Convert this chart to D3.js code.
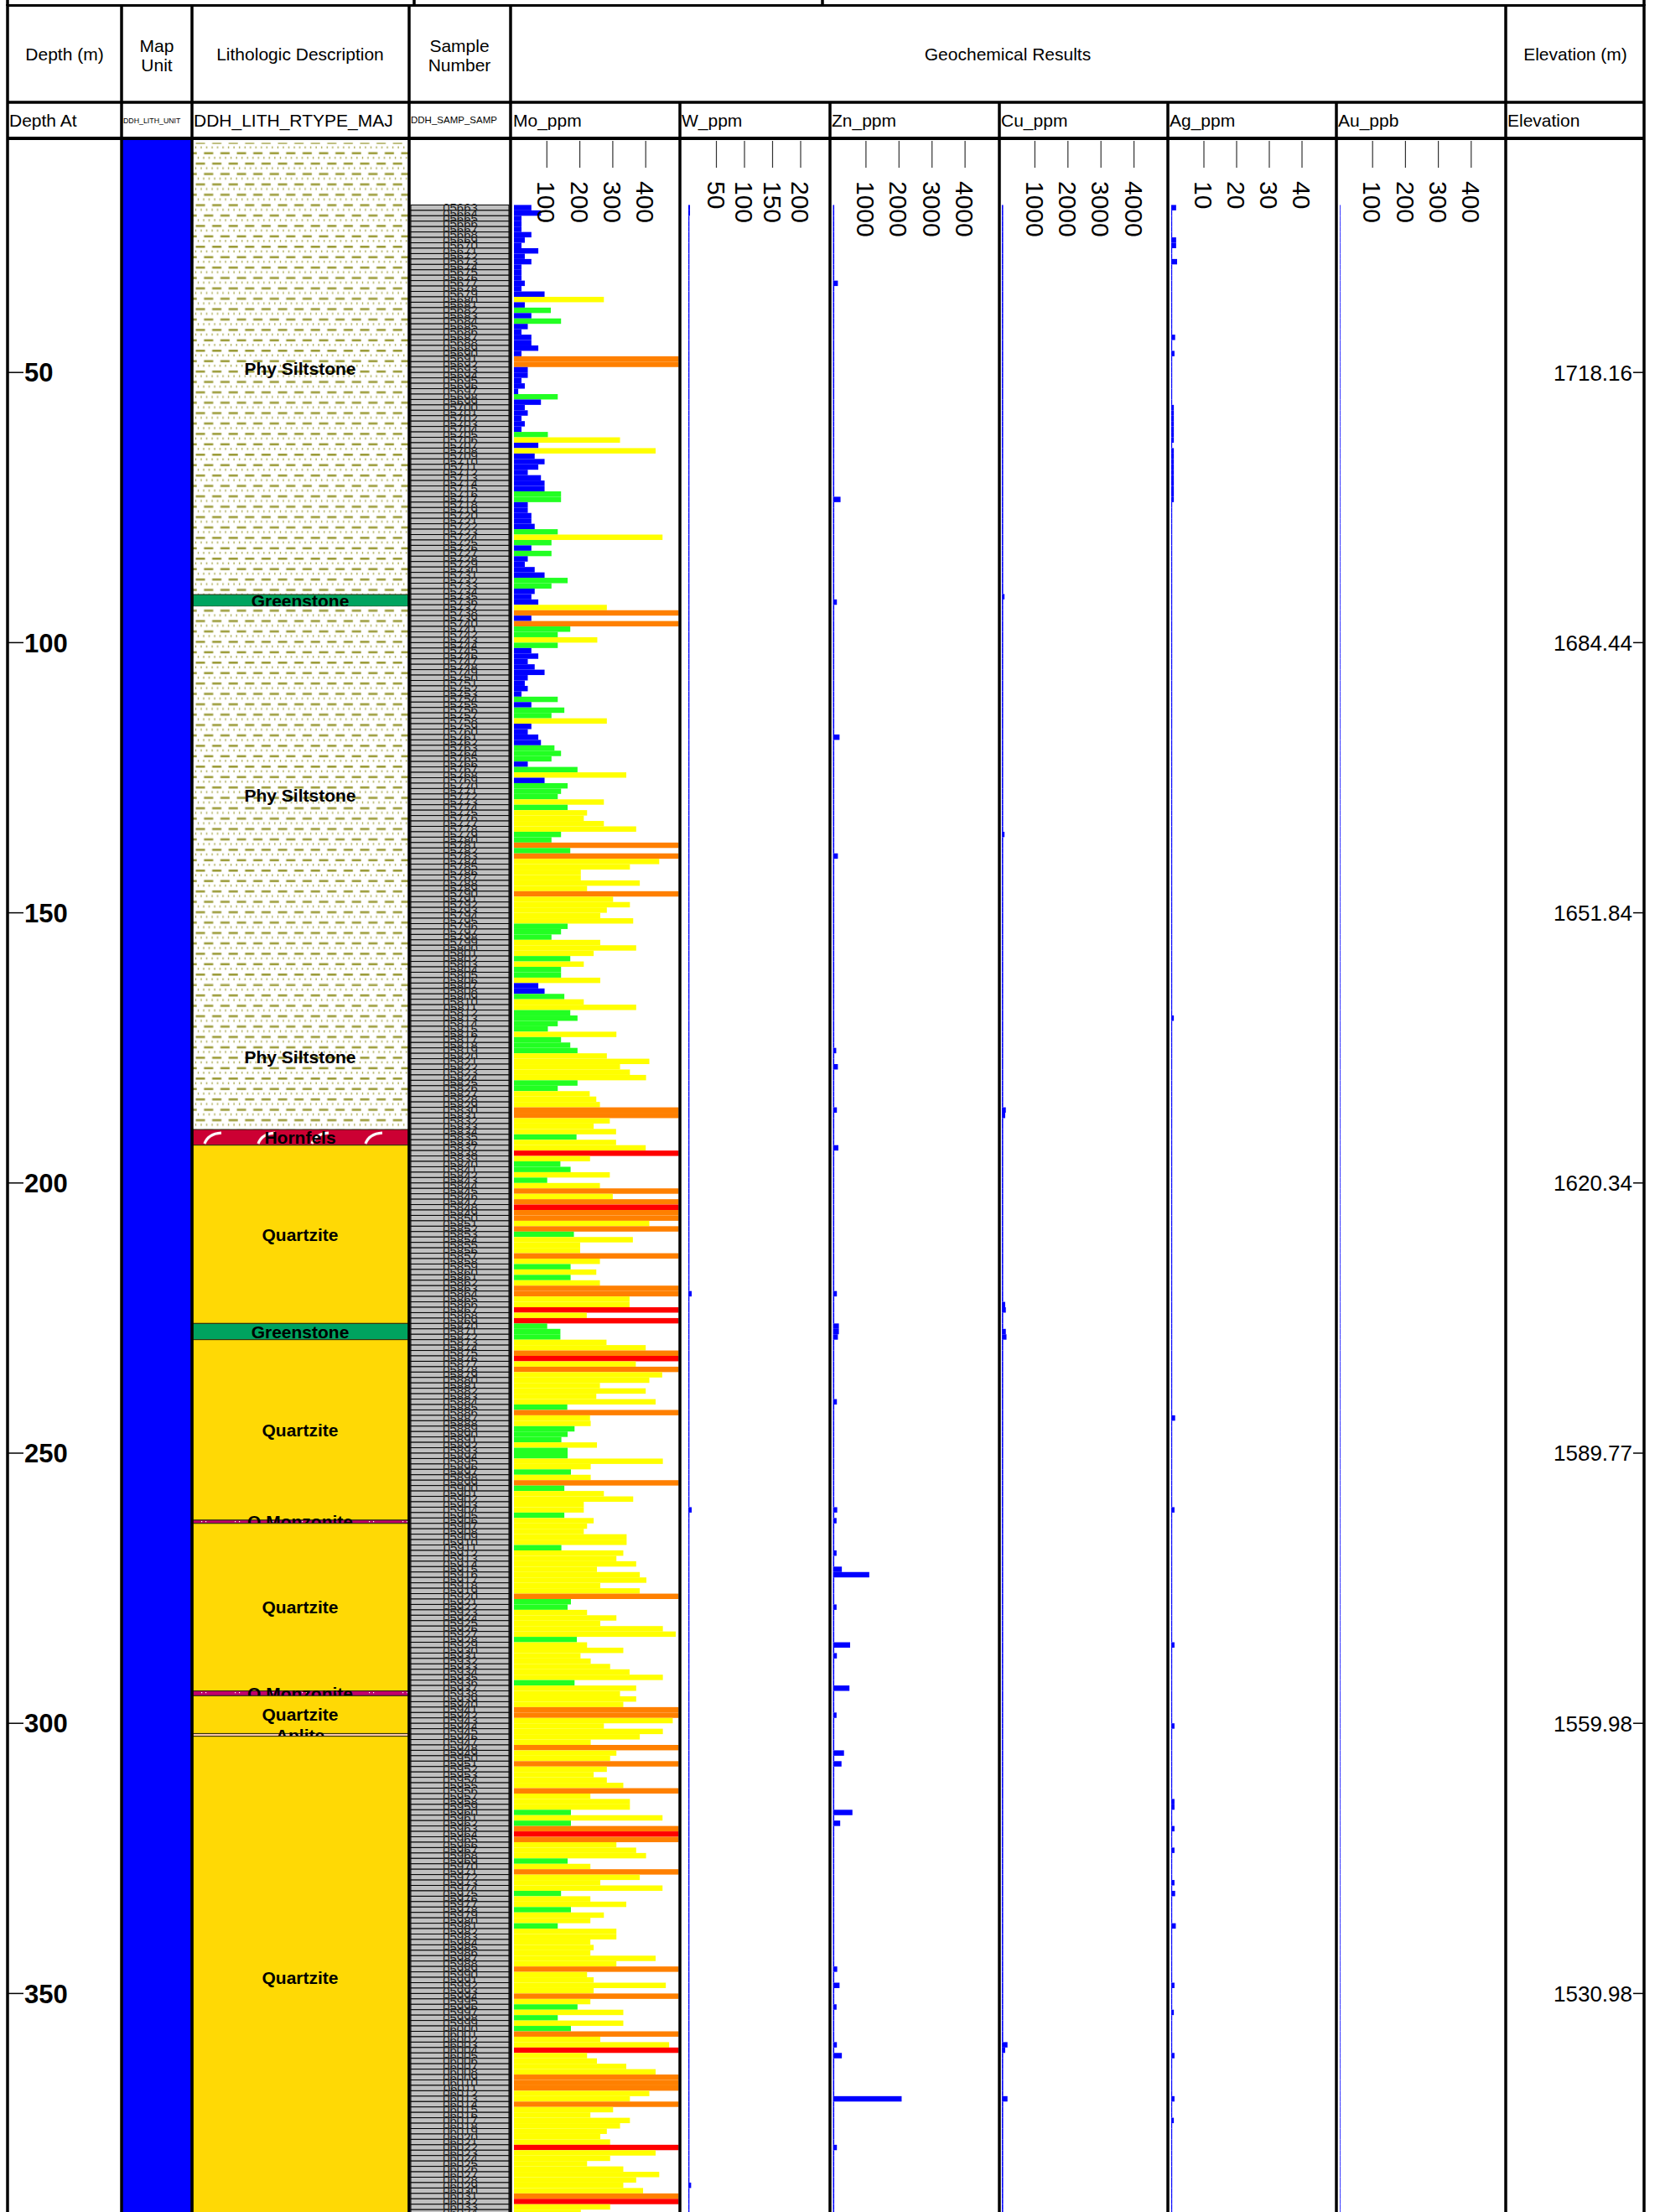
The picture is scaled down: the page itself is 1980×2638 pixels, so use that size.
<!DOCTYPE html>
<html>
<head>
<meta charset="utf-8">
<script src="https://cdn.jsdelivr.net/npm/d3@7"></script>
<style>
  html, body { margin: 0; padding: 0; background: #fff; }
  svg { display: block; font-family: "Liberation Sans", Arial, sans-serif; }
</style>
</head>
<body>
<svg id="log" width="1980" height="2638"></svg>
<script>
const depthTicks = [50, 100, 150, 200, 250, 300, 350];
const elevLabels = ["1718.16", "1684.44", "1651.84", "1620.34", "1589.77", "1559.98", "1530.98"];

const lithNames = ["Phy Siltstone", "Greenstone", "Phy Siltstone", "Phy Siltstone", "Hornfels", "Quartzite",
  "Greenstone", "Quartzite", "Q Monzonite", "Quartzite", "Q Monzonite", "Quartzite", "Aplite", "Quartzite"];
const lithFrom = [7.5, 91.1, 93.3, 163.3, 190.1, 193.0, 226.0, 229.0, 262.4, 263.0, 294.0, 294.9, 301.9, 302.4];
const lithTo   = [91.1, 93.3, 163.3, 190.1, 193.0, 226.0, 229.0, 262.4, 263.0, 294.0, 294.9, 301.9, 302.4, 391.6];

// samples are 1 m long, first one starts at 19 m
const sampleStart = 19;
const sampleLength = 1;
const sampleIds = [
  5663,5664,5665,5666,5667,5668,5669,5670,5671,5672,5673,5674,5675,5676,5677,5678,5679,5680,5681,5682,
  5683,5684,5685,5686,5687,5688,5689,5690,5691,5692,5693,5694,5695,5696,5697,5698,5699,5700,5701,5702,
  5703,5704,5705,5706,5707,5708,5709,5710,5711,5712,5713,5714,5715,5716,5717,5718,5719,5720,5721,5722,
  5723,5724,5725,5726,5727,5728,5729,5730,5731,5732,5733,5734,5735,5736,5737,5738,5739,5740,5741,5742,
  5743,5744,5745,5746,5747,5748,5749,5750,5751,5752,5753,5754,5755,5756,5757,5758,5759,5760,5761,5762,
  5763,5764,5765,5766,5767,5768,5769,5770,5771,5772,5773,5774,5775,5776,5777,5778,5779,5780,5781,5782,
  5783,5784,5785,5786,5787,5788,5789,5790,5791,5792,5793,5794,5795,5796,5797,5798,5799,5800,5801,5802,
  5803,5804,5805,5806,5807,5808,5809,5810,5811,5812,5813,5814,5815,5816,5817,5818,5819,5820,5821,5822,
  5823,5824,5825,5826,5827,5828,5829,5830,5831,5832,5833,5834,5835,5836,5837,5838,5839,5840,5841,5842,
  5843,5844,5845,5846,5847,5848,5849,5850,5851,5852,5853,5854,5855,5856,5857,5858,5859,5860,5861,5862,
  5863,5864,5865,5866,5867,5868,5869,5870,5871,5872,5873,5874,5875,5876,5877,5878,5879,5880,5881,5882,
  5883,5884,5885,5886,5887,5888,5889,5890,5891,5892,5893,5894,5895,5896,5897,5898,5899,5900,5901,5902,
  5903,5904,5905,5906,5907,5908,5909,5910,5911,5912,5913,5914,5915,5916,5917,5918,5919,5920,5921,5922,
  5923,5924,5925,5926,5927,5928,5929,5930,5931,5932,5933,5934,5935,5936,5937,5938,5939,5940,5941,5942,
  5943,5944,5945,5946,5947,5948,5949,5950,5951,5952,5953,5954,5955,5956,5957,5958,5959,5960,5961,5962,
  5963,5964,5965,5966,5967,5968,5969,5970,5971,5972,5973,5974,5975,5976,5977,5978,5979,5980,5981,5982,
  5983,5984,5985,5986,5987,5988,5989,5990,5991,5992,5993,5994,5995,5996,5997,5998,5999,6000,6001,6002,
  6003,6004,6005,6006,6007,6008,6009,6010,6011,6012,6013,6014,6015,6016,6017,6018,6019,6020,6021,6022,
  6023,6024,6025,6026,6027,6028,6029,6030,6031,6032,6033,6034
];

const moPpm = [
  53,82,23,23,23,53,33,23,74,33,53,23,23,23,33,23,93,273,33,112,
  53,143,42,23,53,53,74,23,750,750,42,42,23,33,13,133,82,33,42,23,
  33,23,103,322,74,430,63,93,74,42,82,93,93,143,143,42,42,53,53,63,
  133,451,114,53,114,42,33,63,93,163,114,63,53,74,282,750,53,750,171,133,
  253,133,53,74,42,63,93,42,33,42,23,133,53,153,114,282,53,42,74,82,
  123,143,114,42,193,341,93,163,143,133,273,163,222,212,273,371,143,114,750,171,
  750,441,352,203,203,382,222,750,301,352,282,262,362,163,143,114,262,371,242,171,
  212,143,143,262,74,93,153,212,371,171,193,133,103,311,143,171,193,282,411,322,
  352,401,193,133,230,250,261,750,750,291,242,310,190,310,400,1500,231,141,172,291,
  101,261,750,300,750,1500,750,750,411,750,182,361,201,201,750,261,172,250,172,261,
  750,750,351,351,1500,221,1500,101,141,141,281,400,750,1500,370,750,450,411,261,400,
  250,430,162,750,231,233,184,163,144,252,163,163,452,233,173,233,750,153,273,362,
  212,212,153,242,222,212,342,342,144,332,311,371,252,382,402,262,382,750,173,163,
  222,311,262,452,491,191,222,332,202,233,292,351,452,184,371,322,371,332,750,750,
  482,273,452,382,233,750,311,292,750,282,242,282,332,750,232,352,352,173,451,173,
  750,1500,750,311,371,401,163,232,750,382,262,451,143,232,341,173,273,232,133,311,
  311,232,242,232,430,311,750,222,242,461,242,750,232,193,332,133,332,173,750,262,
  471,1500,222,252,341,430,750,750,750,411,352,750,301,232,352,322,282,262,292,1500,
  430,292,222,332,441,371,332,392,750,1500,292,203
];

const wPpm = [
  3,3,2,2,2,2,2,2,2,2,2,2,2,2,2,2,2,2,2,2,
  2,2,2,2,2,2,2,2,2,2,2,2,2,2,2,2,2,2,2,2,
  2,2,2,2,2,2,2,2,2,2,2,2,2,2,2,2,2,2,2,2,
  2,2,2,2,2,2,2,2,2,2,2,2,2,2,2,2,2,2,2,2,
  2,2,2,2,2,2,2,2,2,2,2,2,2,2,2,2,2,2,2,2,
  2,2,2,2,2,2,2,2,2,2,2,2,2,2,2,2,2,2,2,2,
  2,2,2,2,2,2,2,2,2,2,2,2,2,2,2,2,2,2,2,2,
  2,2,2,2,2,2,2,2,2,2,2,2,2,2,2,2,2,2,2,2,
  2,2,2,2,2,2,2,2,2,2,2,2,2,2,2,2,2,2,2,2,
  2,2,2,2,2,2,2,2,2,2,2,2,2,2,2,2,2,2,2,2,
  2,6,2,2,2,2,2,2,2,2,2,2,2,2,2,2,2,2,2,2,
  2,2,2,2,2,2,2,2,2,2,2,2,2,2,2,2,2,2,2,2,
  2,6,2,2,2,2,2,2,2,2,2,2,2,2,2,2,2,2,2,2,
  2,2,2,2,2,2,2,2,2,2,2,2,2,2,2,2,2,2,2,2,
  2,2,2,2,2,2,2,2,2,2,2,2,2,2,2,2,2,2,2,2,
  2,2,2,2,2,2,2,2,2,2,2,2,2,2,2,2,2,2,2,2,
  2,2,2,2,2,2,2,2,2,2,2,2,2,2,2,2,2,2,2,2,
  2,2,2,2,2,2,2,2,2,2,2,2,2,2,2,2,2,2,2,2,
  2,2,2,2,2,2,5,2,2,2,2,2
];

const znPpm = [
  40,40,40,40,40,40,40,40,40,40,40,40,40,40,150,40,40,40,40,40,
  40,40,40,40,40,40,40,40,40,40,40,40,40,40,40,40,40,40,40,40,
  40,40,40,40,40,40,40,40,40,40,40,40,40,40,230,40,40,40,40,40,
  40,40,40,40,40,40,40,40,40,40,40,40,40,120,40,40,40,40,40,40,
  40,40,40,40,40,40,40,40,40,40,40,40,40,40,40,40,40,40,200,40,
  40,40,40,40,40,40,40,40,40,40,40,40,40,40,40,40,40,40,40,40,
  150,40,40,40,40,40,40,40,40,40,40,40,40,40,40,40,40,40,40,40,
  40,40,40,40,40,40,40,40,40,40,40,40,40,40,40,40,100,40,40,150,
  40,40,40,40,40,40,40,120,40,40,40,40,40,40,165,40,40,40,40,40,
  40,40,40,40,40,40,40,40,40,40,40,40,40,40,40,40,40,40,40,40,
  40,120,40,40,40,40,40,180,180,150,40,40,40,40,40,40,40,40,40,40,
  40,120,40,40,40,40,40,40,40,40,40,40,40,40,40,40,40,40,40,40,
  40,130,40,110,40,40,40,40,40,110,40,40,270,1100,40,40,40,40,40,110,
  40,40,40,40,40,40,520,40,120,40,40,40,40,40,500,40,40,40,40,110,
  40,40,40,40,40,40,335,40,260,40,40,40,40,40,40,40,40,590,40,220,
  40,40,40,40,40,40,40,40,40,40,40,40,40,40,40,40,40,40,40,40,
  40,40,40,40,40,40,130,40,40,200,40,40,40,110,40,40,40,40,40,40,
  120,40,270,40,40,40,40,40,40,40,2080,40,40,40,40,40,40,40,40,120,
  40,40,40,40,40,40,40,40,40,40,40,40
];

const cuPpm = [
  40,40,40,40,40,40,40,40,40,40,40,40,40,40,40,40,40,40,40,40,
  40,40,40,40,40,40,40,40,40,40,40,40,40,40,40,40,40,40,40,40,
  40,40,40,40,40,40,40,40,40,40,40,40,40,40,40,40,40,40,40,40,
  40,40,40,40,40,40,40,40,40,40,40,40,80,40,40,40,40,40,40,40,
  40,40,40,40,40,40,40,40,40,40,40,40,40,40,40,40,40,40,40,40,
  40,40,40,40,40,40,40,40,40,40,40,40,40,40,40,40,80,40,40,40,
  40,40,40,40,40,40,40,40,40,40,40,40,40,40,40,40,40,40,40,40,
  40,40,40,40,40,40,40,40,40,40,40,40,40,40,40,40,40,40,40,40,
  40,40,40,40,40,40,40,120,100,40,40,40,40,40,40,40,40,40,40,40,
  40,40,40,40,40,40,40,40,40,40,40,40,40,40,40,40,40,40,40,40,
  40,40,40,100,120,40,40,40,120,140,40,40,40,40,40,40,40,40,40,40,
  40,40,40,40,40,40,40,40,40,40,40,40,40,40,40,40,40,40,40,40,
  40,40,40,40,40,40,40,40,40,40,40,40,40,40,40,40,40,40,40,40,
  40,40,40,40,40,40,40,40,40,40,40,40,40,40,40,40,40,40,40,40,
  40,40,40,40,40,40,40,40,40,40,40,40,40,40,40,40,40,40,40,40,
  40,40,40,40,40,40,40,40,40,40,40,40,40,40,40,40,40,40,40,40,
  40,40,40,40,40,40,40,40,40,40,40,40,40,40,40,40,40,40,40,40,
  170,100,40,40,40,40,40,40,40,40,170,40,40,40,40,40,40,40,40,40,
  40,40,40,40,40,40,40,40,40,40,40,40
];

const agPpm = [
  1.5,0.3,0.3,0.3,0.3,0.3,1.5,1.5,0.3,0.3,1.8,0.3,0.3,0.3,0.3,0.3,0.3,0.3,0.3,0.3,
  0.3,0.3,0.3,0.3,1.2,0.3,0.3,1.0,0.3,0.3,0.3,0.3,0.3,0.3,0.3,0.3,0.3,0.8,0.8,0.8,
  0.8,0.8,0.8,0.8,0.3,0.8,0.8,0.8,0.8,0.8,0.8,0.8,0.8,0.8,0.8,0.3,0.3,0.3,0.3,0.3,
  0.3,0.3,0.3,0.3,0.3,0.3,0.3,0.3,0.3,0.3,0.3,0.3,0.3,0.3,0.3,0.3,0.3,0.3,0.3,0.3,
  0.3,0.3,0.3,0.3,0.3,0.3,0.3,0.3,0.3,0.3,0.3,0.3,0.3,0.3,0.3,0.3,0.3,0.3,0.3,0.3,
  0.3,0.3,0.3,0.3,0.3,0.3,0.3,0.3,0.3,0.3,0.3,0.3,0.3,0.3,0.3,0.3,0.3,0.3,0.3,0.3,
  0.3,0.3,0.3,0.3,0.3,0.3,0.3,0.3,0.3,0.3,0.3,0.3,0.3,0.3,0.3,0.3,0.3,0.3,0.3,0.3,
  0.3,0.3,0.3,0.3,0.3,0.3,0.3,0.3,0.3,0.3,0.8,0.3,0.3,0.3,0.3,0.3,0.3,0.3,0.3,0.3,
  0.3,0.3,0.3,0.3,0.3,0.3,0.3,0.3,0.3,0.3,0.3,0.3,0.3,0.3,0.3,0.3,0.3,0.3,0.3,0.3,
  0.3,0.3,0.3,0.3,0.3,0.3,0.3,0.3,0.3,0.3,0.3,0.3,0.3,0.3,0.3,0.3,0.3,0.3,0.3,0.3,
  0.3,0.3,0.3,0.3,0.3,0.3,0.3,0.3,0.3,0.3,0.3,0.3,0.3,0.3,0.3,0.3,0.3,0.3,0.3,0.3,
  0.3,0.3,0.3,0.3,1.2,0.3,0.3,0.3,0.3,0.3,0.3,0.3,0.3,0.3,0.3,0.3,0.3,0.3,0.3,0.3,
  0.3,1.0,0.3,0.3,0.3,0.3,0.3,0.3,0.3,0.3,0.3,0.3,0.3,0.3,0.3,0.3,0.3,0.3,0.3,0.3,
  0.3,0.3,0.3,0.3,0.3,0.3,1.0,0.3,0.3,0.3,0.3,0.3,0.3,0.3,0.3,0.3,0.3,0.3,0.3,0.3,
  0.3,1.0,0.3,0.3,0.3,0.3,0.3,0.3,0.3,0.3,0.3,0.3,0.3,0.3,0.3,1.0,1.0,0.3,0.3,0.3,
  1.0,0.3,0.3,0.3,1.0,0.3,0.3,0.3,0.3,0.3,1.0,0.3,1.2,0.3,0.3,0.3,0.3,0.3,1.4,0.3,
  0.3,0.3,0.3,0.3,0.3,0.3,0.3,0.3,0.3,1.0,0.3,0.3,0.3,0.3,0.8,0.3,0.3,0.3,0.3,0.3,
  0.3,0.3,1.0,0.3,0.3,0.3,0.3,0.3,0.3,0.3,1.0,0.3,0.3,0.3,0.8,0.3,0.3,0.3,0.3,0.3,
  0.3,0.3,0.3,0.3,0.3,0.3,0.3,0.3,0.3,0.3,0.3,0.3
];

const auPpb = [
  2,2,2,2,2,2,2,2,2,2,2,2,2,2,2,2,2,2,2,2,
  2,2,2,2,2,2,2,2,2,2,2,2,2,2,2,2,2,2,2,2,
  2,2,2,2,2,2,2,2,2,2,2,2,2,2,2,2,2,2,2,2,
  2,2,2,2,2,2,2,2,2,2,2,2,2,2,2,2,2,2,2,2,
  2,2,2,2,2,2,2,2,2,2,2,2,2,2,2,2,2,2,2,2,
  2,2,2,2,2,2,2,2,2,2,2,2,2,2,2,2,2,2,2,2,
  2,2,2,2,2,2,2,2,2,2,2,2,2,2,2,2,2,2,2,2,
  2,2,2,2,2,2,2,2,2,2,2,2,2,2,2,2,2,2,2,2,
  2,2,2,2,2,2,2,2,2,2,2,2,2,2,2,2,2,2,2,2,
  2,2,2,2,2,2,2,2,2,2,2,2,2,2,2,2,2,2,2,2,
  2,2,2,2,2,2,2,2,2,2,2,2,2,2,2,2,2,2,2,2,
  2,2,2,2,2,2,2,2,2,2,2,2,2,2,2,2,2,2,2,2,
  2,2,2,2,2,2,2,2,2,2,2,2,2,2,2,2,2,2,2,2,
  2,2,2,2,2,2,2,2,2,2,2,2,2,2,2,2,2,2,2,2,
  2,2,2,2,2,2,2,2,2,2,2,2,2,2,2,2,2,2,2,2,
  2,2,2,2,2,2,2,2,2,2,2,2,2,2,2,2,2,2,2,2,
  2,2,2,2,2,2,2,2,2,2,2,2,2,2,2,2,2,2,2,2,
  2,2,2,2,2,2,2,2,2,2,2,2,2,2,2,2,2,2,2,2,
  2,2,2,2,2,2,2,2,2,2,2,2
];

const moTicks = [100, 200, 300, 400];
const wTicks = [50, 100, 150, 200];
const znTicks = [1000, 2000, 3000, 4000];
const cuTicks = [1000, 2000, 3000, 4000];
const agTicks = [10, 20, 30, 40];
const auTicks = [100, 200, 300, 400];

// ---- layout ----
const svg = d3.select("#log");
const width = 1980, height = 2638;
const plotTop = 166;

const y = d3.scaleLinear().domain([0, 400]).range([122, 122 + 6.444 * 400]);
const rowH = y(sampleLength) - y(0);

const lithFill = {
  "Phy Siltstone": "url(#silt)",
  "Greenstone": "#00a35f",
  "Hornfels": "url(#hornfels)",
  "Quartzite": "#ffd905",
  "Q Monzonite": "url(#qmonz)",
  "Aplite": "#ffc9a8"
};

const moColor = d3.scaleThreshold()
  .domain([100, 200, 500, 1000])
  .range(["#0000ff", "#22ff22", "#ffff00", "#ff8000", "#ff0000"]);

const defs = svg.append("defs");
defs.append("clipPath").attr("id", "plotClip")
  .append("rect").attr("x", 0).attr("y", plotTop).attr("width", width).attr("height", height - plotTop);

// siltstone: dashes and dots in olive
const silt = defs.append("pattern").attr("id", "silt")
  .attr("patternUnits", "userSpaceOnUse")
  .attr("x", 232).attr("y", plotTop + 3)
  .attr("width", 19.6).attr("height", 24.8);
silt.append("rect").attr("width", 19.6).attr("height", 24.8).attr("fill", "#fff");
silt.append("rect").attr("x", 1.5).attr("y", 0).attr("width", 11).attr("height", 2.6).attr("fill", "#9c9c3a");
silt.append("rect").attr("x", 11.3).attr("y", 12.4).attr("width", 8.3).attr("height", 2.6).attr("fill", "#9c9c3a");
silt.append("rect").attr("x", 0).attr("y", 12.4).attr("width", 2.7).attr("height", 2.6).attr("fill", "#9c9c3a");
[0.8, 7.3, 13.8].forEach(dx => {
  silt.append("rect").attr("x", dx).attr("y", 5.5).attr("width", 1.3).attr("height", 2.6).attr("fill", "#a8a850");
  silt.append("rect").attr("x", dx + 3).attr("y", 17.9).attr("width", 1.3).attr("height", 2.6).attr("fill", "#a8a850");
});

// hornfels: crimson with white hooks
const hornIdx = lithNames.indexOf("Hornfels");
const horn = defs.append("pattern").attr("id", "hornfels")
  .attr("patternUnits", "userSpaceOnUse")
  .attr("x", 238).attr("y", y(lithFrom[hornIdx]))
  .attr("width", 64).attr("height", y(lithTo[hornIdx]) - y(lithFrom[hornIdx]));
horn.append("rect").attr("width", 64).attr("height", 40).attr("fill", "#cc0033");
horn.append("path").attr("d", "M6,17 Q10,5 26,4").attr("fill", "none")
  .attr("stroke", "#fff").attr("stroke-width", 3.2);

// Q monzonite: magenta with white specks
const qm = defs.append("pattern").attr("id", "qmonz")
  .attr("patternUnits", "userSpaceOnUse")
  .attr("x", 236).attr("y", 0).attr("width", 40).attr("height", 6);
qm.append("rect").attr("width", 40).attr("height", 6).attr("fill", "#c2006c");
qm.append("rect").attr("x", 4).attr("y", 2).attr("width", 1.2).attr("height", 1.2).attr("fill", "#fff");
qm.append("rect").attr("x", 9).attr("y", 2).attr("width", 1.2).attr("height", 1.2).attr("fill", "#fff");

const plot = svg.append("g").attr("clip-path", "url(#plotClip)");

// map unit column
plot.append("rect").attr("x", 146).attr("y", plotTop).attr("width", 82).attr("height", height - plotTop)
  .attr("fill", "#0000ff");

// lithology intervals (drawn in order so a later unit overprints the label above it)
const lithG = plot.append("g").selectAll("g")
  .data(lithNames.map((n, i) => ({ name: n, from: lithFrom[i], to: lithTo[i] })))
  .join("g");
lithG.append("rect")
  .attr("x", 230).attr("width", 257)
  .attr("y", d => y(d.from))
  .attr("height", d => y(d.to) - y(d.from))
  .attr("fill", d => lithFill[d.name])
  .attr("stroke", d => d.name === "Phy Siltstone" ? "none" : "#2a2a10")
  .attr("stroke-width", 1);
lithG.append("text")
  .attr("x", 358)
  .attr("y", d => (y(d.from) + y(d.to)) / 2)
  .attr("dy", "0.36em")
  .attr("text-anchor", "middle")
  .style("font-size", "21px").style("font-weight", "bold")
  .text(d => d.name);

// sample column
const sampG = plot.append("g").selectAll("g")
  .data(sampleIds)
  .join("g");
sampG.append("rect")
  .attr("x", 490).attr("width", 117)
  .attr("y", (d, i) => y(sampleStart + i * sampleLength))
  .attr("height", rowH)
  .attr("fill", "#c0c0c0").attr("stroke", "#000").attr("stroke-width", 1);
sampG.append("text")
  .attr("x", 549)
  .attr("y", (d, i) => y(sampleStart + (i + 0.5) * sampleLength))
  .attr("dy", "0.36em")
  .attr("text-anchor", "middle")
  .style("font-size", "15px").attr("fill", "#222")
  .text(d => d3.format("05d")(d));

// geochem columns
const geo = [
  { vals: moPpm, ticks: moTicks, x: d3.scaleLinear().domain([0, 500]).range([613, 809.5]).clamp(true), color: moColor },
  { vals: wPpm,  ticks: wTicks,  x: d3.scaleLinear().domain([0, 250]).range([821, 988.5]).clamp(true) },
  { vals: znPpm, ticks: znTicks, x: d3.scaleLinear().domain([0, 5000]).range([993.5, 1190.5]).clamp(true) },
  { vals: cuPpm, ticks: cuTicks, x: d3.scaleLinear().domain([0, 5000]).range([1195, 1392]).clamp(true) },
  { vals: agPpm, ticks: agTicks, x: d3.scaleLinear().domain([0, 50]).range([1397, 1592]).clamp(true) },
  { vals: auPpb, ticks: auTicks, x: d3.scaleLinear().domain([0, 500]).range([1598, 1794]).clamp(true) }
];

geo.forEach(col => {
  plot.append("g").selectAll("rect")
    .data(col.vals)
    .join("rect")
    .attr("x", col.x(0))
    .attr("y", (d, i) => y(sampleStart + i * sampleLength))
    .attr("width", d => col.x(d) - col.x(0))
    .attr("height", rowH)
    .attr("fill", d => col.color ? col.color(d) : "#0000ff");

  const tg = svg.append("g");
  tg.selectAll("line").data(col.ticks).join("line")
    .attr("x1", d => col.x(d)).attr("x2", d => col.x(d))
    .attr("y1", 168).attr("y2", 200)
    .attr("stroke", "#333").attr("stroke-width", 1.2);
  tg.selectAll("text").data(col.ticks).join("text")
    .attr("transform", d => `translate(${col.x(d)},216) rotate(90)`)
    .attr("dy", "0.36em")
    .style("font-size", "30px")
    .text(d => d);
});

// depth and elevation labels
const depthG = svg.append("g").selectAll("g").data(depthTicks).join("g")
  .attr("transform", d => `translate(0,${y(d)})`);
depthG.append("line").attr("x1", 9).attr("x2", 28).attr("stroke", "#000").attr("stroke-width", 1.5);
depthG.append("text").attr("x", 29).attr("dy", "0.36em")
  .style("font-size", "31px").style("font-weight", "bold")
  .text(d => d);

const elevG = svg.append("g").selectAll("g").data(elevLabels).join("g")
  .attr("transform", (d, i) => `translate(0,${y(depthTicks[i])})`);
elevG.append("line").attr("x1", 1948).attr("x2", 1961).attr("stroke", "#000").attr("stroke-width", 1.5);
elevG.append("text").attr("x", 1947).attr("dy", "0.36em")
  .attr("text-anchor", "end")
  .style("font-size", "26px")
  .text(d => d);

// ---- headers ----
const hdr = svg.append("g").style("font-size", "21px");
const h1 = [
  { x: 77, lines: ["Depth (m)"] },
  { x: 187, lines: ["Map", "Unit"] },
  { x: 358, lines: ["Lithologic Description"] },
  { x: 548, lines: ["Sample", "Number"] },
  { x: 1202, lines: ["Geochemical Results"] },
  { x: 1879, lines: ["Elevation (m)"] }
];
h1.forEach(h => {
  h.lines.forEach((t, k) => {
    hdr.append("text")
      .attr("x", h.x)
      .attr("y", h.lines.length === 1 ? 72 : 62 + k * 23)
      .attr("text-anchor", "middle")
      .text(t);
  });
});
const h2 = [
  { x: 11, t: "Depth At", s: 21 },
  { x: 147, t: "DDH_LITH_UNIT", s: 8.8 },
  { x: 231, t: "DDH_LITH_RTYPE_MAJ", s: 21 },
  { x: 490, t: "DDH_SAMP_SAMP", s: 11.5 },
  { x: 612, t: "Mo_ppm", s: 21 },
  { x: 813, t: "W_ppm", s: 21 },
  { x: 992, t: "Zn_ppm", s: 21 },
  { x: 1194, t: "Cu_ppm", s: 21 },
  { x: 1395, t: "Ag_ppm", s: 21 },
  { x: 1596, t: "Au_ppb", s: 21 },
  { x: 1798, t: "Elevation", s: 21 }
];
h2.forEach(h => {
  hdr.append("text").attr("x", h.x).attr("y", h.s > 12 ? 151 : 147)
    .style("font-size", h.s + "px").text(h.t);
});

// ---- frame lines ----
const lines = svg.append("g").attr("stroke", "#000");
[[6.5, 3], [122, 3.5], [165, 4]].forEach(([yy, w]) => {
  lines.append("line").attr("x1", 8).attr("x2", 1962).attr("y1", yy).attr("y2", yy).attr("stroke-width", w);
});
[9, 145, 229, 488, 609, 1796, 1961].forEach(x => {
  lines.append("line").attr("x1", x).attr("x2", x).attr("y1", 5).attr("y2", height).attr("stroke-width", 3.5);
});
[811, 990, 1192, 1393, 1594].forEach(x => {
  lines.append("line").attr("x1", x).attr("x2", x).attr("y1", 122).attr("y2", height).attr("stroke-width", 3.5);
});
[9, 494, 981, 1961].forEach(x => {
  lines.append("line").attr("x1", x).attr("x2", x).attr("y1", 0).attr("y2", 7).attr("stroke-width", 3.5);
});
</script>
</body>
</html>
